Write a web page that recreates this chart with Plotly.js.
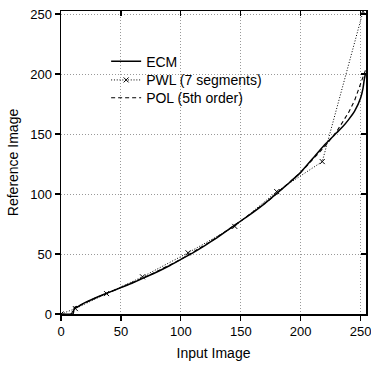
<!DOCTYPE html>
<html>
<head>
<meta charset="utf-8">
<script src="https://cdn.plot.ly/plotly-3.0.1.min.js"></script>
<style>html,body{margin:0;padding:0;background:#fff;}#chart{width:371px;height:365px;}</style>
</head>
<body>
<div id="chart"></div>
<script>
// ECM (solid)
const ecmX = [0, 10, 11, 14, 20, 30, 40, 50, 60, 70, 80, 90, 100, 110, 120, 130, 140, 150, 160, 170, 180, 190, 200, 210, 220, 230, 235, 240, 245, 250, 252, 253, 254];
const ecmY = [0, 0, 4.5, 6, 9.5, 14, 18, 22, 26, 30.5, 35, 40, 45.5, 51, 57, 63.5, 70.5, 77.5, 84.5, 92, 100.5, 109, 118, 129.5, 141, 151, 156, 162, 169, 180, 188, 195, 200];
// PWL (7 segments), dotted with x markers at breakpoints
const pwlX = [0, 12, 38, 68, 106, 145, 180, 218, 252];
const pwlY = [0, 4.5, 17, 31, 51, 73, 102, 127, 252];
// POL (5th order), dashed
const polX = [8, 9, 10.3, 12, 14, 17, 20, 30, 50, 75, 100, 125, 150, 175, 200, 210, 220, 230, 240, 245, 250, 254];
const polY = [0, 0.5, 4.7, 6, 6.5, 8, 9.5, 14, 22, 33, 45.5, 60.5, 77.5, 96, 118, 128.5, 139.5, 152, 168, 178, 191, 203];

const tickVals = [0, 50, 100, 150, 200, 250];
const tickText = ['0', '50', '100', '150', '200', '250'];
const xRange = [0, 254.5];
const yRange = [0, 252.5];

const font = {family: '"Liberation Sans", Arial, Helvetica, sans-serif', color: '#000'};

const traces = [
  {x: ecmX, y: ecmY, name: 'ECM', mode: 'lines', legend: 'legend',
   line: {color: '#000', width: 1.5, shape: 'spline', smoothing: 0.4}},
  {x: pwlX, y: pwlY, name: 'PWL (7 segments)', mode: 'lines+markers', legend: 'legend2',
   line: {color: '#000', width: 1, dash: '1px,1.8px'},
   marker: {symbol: 'x-thin-open', size: 5, color: '#000', line: {color: '#000', width: 1}}},
  {x: polX, y: polY, name: 'POL (5th order)', mode: 'lines', legend: 'legend3',
   line: {color: '#000', width: 1.1, dash: '4px,3px'}}
];

function leg(y) {
  return {x: 0.148, y: y, xanchor: 'left', yanchor: 'top', bgcolor: 'rgba(0,0,0,0)',
          borderwidth: 0, font: Object.assign({size: 14}, font), itemwidth: 30};
}

const gridCommon = {showgrid: true, gridcolor: '#999', griddash: '1px,2px', gridwidth: 1};

const layout = {
  width: 371, height: 365,
  margin: {l: 61, r: 5, t: 11, b: 51},
  paper_bgcolor: '#fff', plot_bgcolor: '#fff',
  font: Object.assign({size: 13}, font),
  showlegend: true,
  legend: leg(0.886),
  legend2: leg(0.824),
  legend3: leg(0.765),
  xaxis: Object.assign({
    range: xRange, tickvals: tickVals, ticktext: tickText,
    ticks: 'outside', ticklen: 5, tickwidth: 1.2, tickcolor: '#000',
    showline: true, linecolor: '#000', linewidth: 1.5,
    zeroline: false, tickfont: Object.assign({size: 13}, font), ticklabeloverflow: 'allow',
    title: {text: 'Input Image', font: Object.assign({size: 14}, font), standoff: 10}
  }, gridCommon),
  yaxis: Object.assign({
    range: yRange, tickvals: tickVals, ticktext: tickText,
    ticks: 'outside', ticklen: 5, tickwidth: 1.2, tickcolor: '#000',
    showline: true, linecolor: '#000', linewidth: 1.5,
    zeroline: false, tickfont: Object.assign({size: 13}, font),
    title: {text: 'Reference Image', font: Object.assign({size: 14}, font), standoff: 8}
  }, gridCommon),
  xaxis2: {
    overlaying: 'x', side: 'top', range: xRange, tickvals: tickVals, showticklabels: false,
    ticks: 'inside', ticklen: 5, tickwidth: 1.2, tickcolor: '#000',
    showline: true, linecolor: '#000', linewidth: 1.5, showgrid: false, zeroline: false
  },
  yaxis2: {
    overlaying: 'y', side: 'right', range: yRange, tickvals: tickVals, showticklabels: false,
    ticks: 'inside', ticklen: 5, tickwidth: 1.2, tickcolor: '#000',
    showline: true, linecolor: '#000', linewidth: 1.5, showgrid: false, zeroline: false
  }
};

// invisible helper trace to activate the mirrored axes
traces.push({x: [xRange[0]], y: [yRange[0]], xaxis: 'x2', yaxis: 'y2', mode: 'markers',
             marker: {opacity: 0}, showlegend: false, hoverinfo: 'skip'});

Plotly.newPlot('chart', traces, layout, {staticPlot: true, displayModeBar: false});
</script>
</body>
</html>
